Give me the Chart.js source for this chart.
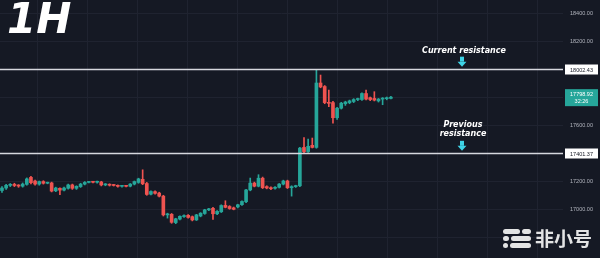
<!DOCTYPE html>
<html>
<head>
<meta charset="utf-8">
<script src="https://cdn.jsdelivr.net/npm/chart.js@4.4.1/dist/chart.umd.min.js"></script>
<style>
  html, body { margin: 0; padding: 0; background: #151924; }
  #wrap { width: 600px; height: 258px; position: relative; }
</style>
</head>
<body>
<div id="wrap"><canvas id="chart"></canvas></div>
<script>
// hourly candles, oldest first
const opens = [17132, 17150, 17169, 17176, 17168, 17163, 17176, 17226, 17200, 17178,
    17196, 17184, 17186, 17130, 17148, 17135, 17148, 17172, 17148, 17160,
    17178, 17190, 17193, 17191, 17193, 17172, 17176, 17170, 17168, 17162,
    17164, 17163, 17178, 17190, 17212, 17182, 17106, 17124, 17114, 17092,
    16958, 16962, 16903, 16928, 16946, 16955, 16945, 16922, 16950, 16968,
    16994, 17005, 16966, 16980, 17026, 17018, 17008, 17015, 17031, 17052,
    17136, 17185, 17163, 17220, 17160, 17150, 17148, 17155, 17178, 17200,
    17152, 17160, 17166, 17440, 17410, 17455, 17440, 17900, 17875, 17762,
    17760, 17652, 17720, 17752, 17760, 17768, 17782, 17782, 17825, 17795,
    17790, 17772, 17785, 17788, 17790];
const highs = [17160, 17176, 17182, 17184, 17174, 17186, 17222, 17234, 17206, 17200,
    17202, 17192, 17192, 17156, 17152, 17156, 17178, 17178, 17166, 17184,
    17196, 17198, 17198, 17200, 17198, 17182, 17180, 17176, 17172, 17170,
    17170, 17182, 17200, 17220, 17280, 17190, 17130, 17130, 17120, 17098,
    16970, 16968, 16934, 16952, 16958, 16960, 16950, 16962, 16974, 16998,
    17004, 17012, 16988, 17030, 17059, 17024, 17014, 17034, 17058, 17140,
    17221, 17192, 17245, 17228, 17166, 17158, 17160, 17182, 17206, 17206,
    17166, 17170, 17440, 17510, 17500, 17507, 17995, 17957, 17882, 17850,
    17770, 17726, 17762, 17770, 17778, 17788, 17792, 17830, 17850, 17800,
    17838, 17790, 17796, 17800, 17804];
const lows = [17118, 17140, 17160, 17160, 17155, 17156, 17170, 17180, 17170, 17170,
    17178, 17180, 17122, 17124, 17102, 17130, 17142, 17140, 17140, 17154,
    17172, 17186, 17186, 17185, 17165, 17166, 17164, 17164, 17156, 17156,
    17158, 17158, 17172, 17184, 17174, 17098, 17100, 17106, 17086, 16950,
    16935, 16898, 16895, 16922, 16940, 16934, 16915, 16918, 16944, 16962,
    16988, 16925, 16960, 16975, 17008, 16998, 16994, 17008, 17026, 17046,
    17130, 17158, 17158, 17146, 17144, 17138, 17142, 17150, 17172, 17146,
    17092, 17154, 17160, 17400, 17404, 17436, 17434, 17866, 17752, 17731,
    17614, 17640, 17714, 17740, 17752, 17760, 17774, 17776, 17780, 17774,
    17772, 17764, 17745, 17780, 17786];
const closes = [17150, 17169, 17175, 17168, 17164, 17178, 17215, 17188, 17178, 17196,
    17184, 17187, 17128, 17150, 17135, 17150, 17172, 17148, 17162, 17178,
    17190, 17193, 17191, 17194, 17172, 17176, 17170, 17168, 17162, 17164,
    17162, 17178, 17196, 17215, 17180, 17104, 17125, 17112, 17092, 16958,
    16962, 16905, 16930, 16948, 16952, 16940, 16922, 16958, 16970, 16994,
    16999, 16966, 16983, 17025, 17012, 17003, 16998, 17030, 17054, 17136,
    17185, 17163, 17220, 17152, 17150, 17145, 17155, 17178, 17200, 17152,
    17160, 17165, 17435, 17410, 17448, 17440, 17900, 17872, 17760, 17755,
    17652, 17720, 17756, 17764, 17772, 17782, 17786, 17825, 17785, 17782,
    17778, 17785, 17790, 17795, 17798.92];

const resistanceLevels = [18002.43, 17401.37];
const shownTicks = [18400, 18200, 17600, 17200, 17000];
const countdown = '32:26';

const UP = '#26a69a';
const DOWN = '#ef5350';
const candleColors = opens.map((o, i) => closes[i] >= o ? UP : DOWN);

const gridValues = [];
for (let v = 16800; v <= 18400; v += 200) gridValues.push(v);
const xGrid = [];
for (let v = 2.66; v < 136; v += 12.08) xGrid.push(v);

const overlay = {
    id: 'overlay',
    afterDatasetsDraw(chart) {
        const { ctx, chartArea, scales: { y } } = chart;
        const right = chartArea.right;
        ctx.save();

        // resistance lines + price tags
        resistanceLevels.forEach(v => {
            const py = Math.round(y.getPixelForValue(v)) + 0.5;
            ctx.strokeStyle = '#d6d8de';
            ctx.lineWidth = 1.3;
            ctx.beginPath();
            ctx.moveTo(0, py);
            ctx.lineTo(right, py);
            ctx.stroke();
            ctx.fillStyle = '#ffffff';
            ctx.fillRect(right + 2, py - 5, 33, 10);
            ctx.fillStyle = '#131722';
            ctx.font = '5.5px "Liberation Sans"';
            ctx.textAlign = 'center';
            ctx.textBaseline = 'middle';
            ctx.fillText(v.toFixed(2), right + 18.5, py + 0.5);
        });

        // last price tag
        const last = closes[closes.length - 1];
        const lp = y.getPixelForValue(last);
        ctx.fillStyle = UP;
        ctx.fillRect(right + 2, lp - 8, 33, 17);
        ctx.fillStyle = '#ffffff';
        ctx.font = '5.5px "Liberation Sans"';
        ctx.textAlign = 'center';
        ctx.textBaseline = 'middle';
        ctx.fillText(last.toFixed(2), right + 18.5, lp - 2.5);
        ctx.fillText(countdown, right + 18.5, lp + 4.5);

        // annotations
        const ax = 462;
        const arrow = (tipY) => {
            ctx.fillStyle = '#3fd3e6';
            ctx.fillRect(ax - 2, tipY - 10, 4, 5);
            ctx.beginPath();
            ctx.moveTo(ax - 4.5, tipY - 5);
            ctx.lineTo(ax + 4.5, tipY - 5);
            ctx.lineTo(ax, tipY);
            ctx.closePath();
            ctx.fill();
        };
        const cy = y.getPixelForValue(resistanceLevels[0]);
        const py2 = y.getPixelForValue(resistanceLevels[1]);
        ctx.fillStyle = '#ffffff';
        ctx.font = 'italic bold 8px "DejaVu Sans"';
        ctx.textAlign = 'center';
        ctx.textBaseline = 'middle';
        ctx.fillText('Current resistance', ax + 2, cy - 18);
        arrow(cy - 2);
        ctx.fillStyle = '#ffffff';
        ctx.fillText('Previous', ax + 1, py2 - 28);
        ctx.fillText('resistance', ax + 1, py2 - 18.5);
        arrow(py2 - 2);

        ctx.restore();
    },
    afterDraw(chart) {
        const { ctx } = chart;
        ctx.save();
        // timeframe label
        ctx.fillStyle = '#ffffff';
        ctx.font = 'italic bold 42px "DejaVu Sans"';
        ctx.textAlign = 'left';
        ctx.textBaseline = 'alphabetic';
        ctx.fillText('1H', 7, 33);

        // watermark
        ctx.fillStyle = 'rgba(245,245,245,0.92)';
        const rr = (x, y0, w, h) => {
            ctx.beginPath();
            ctx.roundRect(x, y0, w, h, h / 2);
            ctx.fill();
        };
        rr(503, 229, 17, 5); rr(522, 229, 9, 5);
        rr(503, 236, 6, 5); rr(511, 236, 20, 5);
        rr(503, 243, 5, 5); rr(510, 243, 21, 5);
        ctx.font = 'bold 19px "Noto Sans CJK SC"';
        ctx.textBaseline = 'middle';
        ctx.fillText('非小号', 535, 239);
        ctx.restore();
    }
};

new Chart(document.getElementById('chart'), {
    type: 'bar',
    data: {
        datasets: [{
            label: 'wick',
            data: lows.map((l, i) => ({ x: i, y: [l, highs[i]] })),
            backgroundColor: candleColors,
            barThickness: 1,
            grouped: false,
            order: 2
        }, {
            label: 'body',
            data: opens.map((o, i) => ({ x: i, y: [o, closes[i]] })),
            backgroundColor: candleColors,
            barThickness: 3,
            minBarLength: 1,
            grouped: false,
            order: 1
        }]
    },
    options: {
        responsive: true,
        maintainAspectRatio: false,
        animation: false,
        layout: { padding: 0, autoPadding: false },
        plugins: {
            legend: { display: false },
            tooltip: { enabled: false }
        },
        scales: {
            x: {
                type: 'linear',
                min: -0.48,
                max: 135.6,
                offset: false,
                grid: { color: '#1f2330', drawTicks: false },
                border: { display: false },
                ticks: { display: false },
                afterBuildTicks: s => { s.ticks = xGrid.map(v => ({ value: v })); },
                afterFit: s => { s.height = 0; s.paddingLeft = 0; s.paddingRight = 0; }
            },
            y: {
                position: 'right',
                min: 16650,
                max: 18493,
                grid: { color: '#1f2330', drawTicks: false },
                border: { display: false },
                ticks: {
                    color: '#b2b5be',
                    padding: 7,
                    font: { size: 5.5, family: '"Liberation Sans"' },
                    callback: v => shownTicks.includes(v) ? v.toFixed(2) : ''
                },
                afterBuildTicks: s => { s.ticks = gridValues.map(v => ({ value: v })); },
                afterFit: s => { s.width = 37; s.paddingTop = 0; s.paddingBottom = 0; }
            }
        }
    },
    plugins: [overlay]
});
</script>
</body>
</html>
